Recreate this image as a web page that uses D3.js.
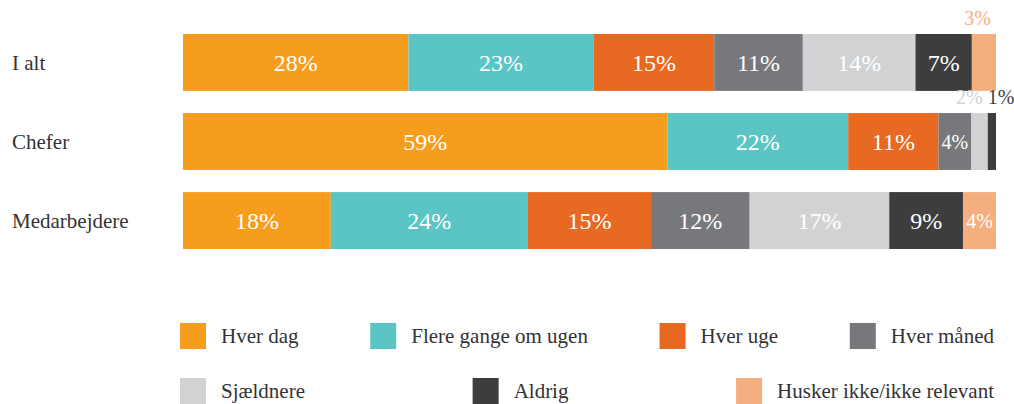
<!DOCTYPE html>
<html><head><meta charset="utf-8">
<script src="https://cdn.jsdelivr.net/npm/d3@7"></script>
<style>html,body{margin:0;padding:0;background:#fff;}svg{display:block;}</style>
</head><body><svg id="c" width="1014" height="404"></svg>
<script>
const groups = ["I alt", "Chefer", "Medarbejdere"];
const series = ["Hver dag", "Flere gange om ugen", "Hver uge", "Hver måned", "Sjældnere", "Aldrig", "Husker ikke/ikke relevant"];
const colors = ["#f79d1e", "#5bc5c6", "#e86a22", "#77787c", "#d1d2d4", "#3d3d3d", "#f5ae80"];
const hverDag   = [28, 59, 18];
const flere     = [23, 22, 24];
const hverUge   = [15, 11, 15];
const hverMaaned= [11, 4, 12];
const sjaeldnere= [14, 2, 17];
const aldrig    = [7, 1, 9];
const husker    = [3, 0, 4];
const values = [hverDag, flere, hverUge, hverMaaned, sjaeldnere, aldrig, husker];

const FONT = "'Liberation Serif', serif";
const svg = d3.select("#c");
const y = d3.scaleBand().domain(groups).range([34, 249]).paddingInner(0.28).paddingOuter(0);
const x = d3.scaleLinear().domain([0, 1]).range([183, 996]);

groups.forEach((g, gi) => {
  const total = d3.sum(values, v => v[gi]);
  let cum = 0;
  const segs = series.map((s, si) => {
    const v = values[si][gi];
    const seg = {s, si, v, x0: x(cum / total), x1: x((cum + v) / total)};
    cum += v;
    return seg;
  }).filter(d => d.v > 0);
  const row = svg.append("g");
  row.selectAll("rect").data(segs).join("rect")
    .attr("x", d => d.x0).attr("y", y(g))
    .attr("width", d => d.x1 - d.x0).attr("height", y.bandwidth())
    .attr("fill", d => colors[d.si]);
  segs.forEach((d, k) => {
    const inside = d.v >= 4;
    const t = row.append("text").text(d.v + "%").attr("font-family", FONT);
    if (inside) {
      t.attr("x", (d.x0 + d.x1) / 2).attr("y", y(g) + y.bandwidth() / 2)
       .attr("dy", "0.35em").attr("text-anchor", "middle")
       .attr("fill", "#fff").attr("font-size", d.v < 5 ? 20 : 24);
    } else {
      const prevOutside = k > 0 && segs[k - 1].v < 4;
      t.attr("y", y(g) - 9).attr("fill", colors[d.si]).attr("font-size", 20);
      if (prevOutside) t.attr("x", d.x0).attr("text-anchor", "start");
      else t.attr("x", d.x1 - 5).attr("text-anchor", "end");
    }
  });
  svg.append("text").text(g).attr("x", 12).attr("y", y(g) + y.bandwidth() / 2)
    .attr("dy", "0.35em").attr("font-family", FONT).attr("font-size", 21).attr("fill", "#333");
});

// legend: two rows, justified between 180 and 994
const legendRows = [[0, 1, 2, 3], [4, 5, 6]];
const legendY = [323, 378];
const sq = 26, gap = 15, L0 = 180, L1 = 994;
legendRows.forEach((ids, ri) => {
  const items = ids.map(si => {
    const g = svg.append("g");
    g.append("rect").attr("width", sq).attr("height", sq).attr("fill", colors[si]);
    const t = g.append("text").text(series[si]).attr("x", sq + gap).attr("y", sq / 2)
      .attr("dy", "0.35em").attr("font-family", FONT).attr("font-size", 21).attr("fill", "#333");
    const w = sq + gap + t.node().getComputedTextLength();
    return {g, w};
  });
  const totalW = d3.sum(items, d => d.w);
  const space = (L1 - L0 - totalW) / (items.length - 1);
  let cx = L0;
  items.forEach(it => {
    it.g.attr("transform", `translate(${cx},${legendY[ri]})`);
    cx += it.w + space;
  });
});
</script></body></html>
